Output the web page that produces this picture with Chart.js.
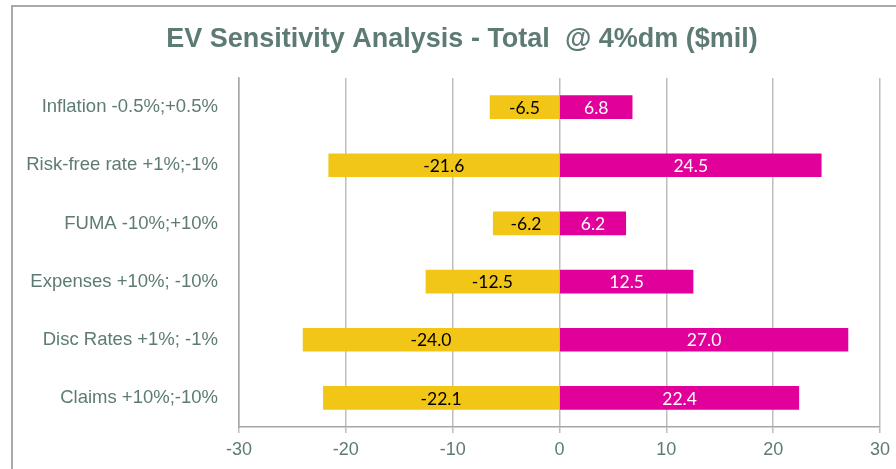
<!DOCTYPE html>
<html>
<head>
<meta charset="utf-8">
<script src="https://cdn.jsdelivr.net/npm/chart.js@4/dist/chart.umd.min.js"></script>
<style>
  html, body { margin: 0; padding: 0; background: #ffffff; overflow: hidden; }
  #wrap { position: relative; width: 896px; height: 469px; }
  #frame { position: absolute; left: 11px; top: 5px; width: 1000px; height: 1000px;
           border-left: 2px solid #a9a9a9; border-top: 2px solid #a9a9a9; box-sizing: border-box; }
  canvas { position: absolute; left: 0; top: 0; }
</style>
</head>
<body>
<div id="wrap">
  <div id="frame"></div>
  <canvas id="chart" width="896" height="469"></canvas>
</div>
<script>
// Sensitivity drivers (top to bottom)
const categories = [
  'Inflation -0.5%;+0.5%',
  'Risk-free rate +1%;-1%',
  'FUMA -10%;+10%',
  'Expenses +10%; -10%',
  'Disc Rates +1%; -1%',
  'Claims +10%;-10%'
];
// EV impact, $mil
const downside = [-6.5, -21.6, -6.2, -12.5, -24.0, -22.1];
const upside   = [6.8, 24.5, 6.2, 12.5, 27.0, 22.4];
const xTicks   = [-30, -20, -10, 0, 10, 20, 30];

const chartTitle = 'EV Sensitivity Analysis - Total  @ 4%dm ($mil)';
const textColor = '#5d7b74';

// Title drawn centred over the plot area
const titlePlugin = {
  id: 'plotTitle',
  afterDraw(chart) {
    const ctx = chart.ctx;
    ctx.save();
    ctx.font = 'bold 27px "Liberation Sans", Arial, sans-serif';
    ctx.fillStyle = textColor;
    ctx.textAlign = 'center';
    ctx.textBaseline = 'alphabetic';
    ctx.fillText(chartTitle, 462, 47);
    ctx.restore();
  }
};

// Value labels centred inside each bar
const barLabelPlugin = {
  id: 'barLabels',
  afterDatasetsDraw(chart) {
    const ctx = chart.ctx;
    ctx.save();
    ctx.font = '17.5px Lato, "Open Sans", sans-serif';
    ctx.textAlign = 'center';
    ctx.textBaseline = 'middle';
    chart.data.datasets.forEach((ds, di) => {
      const meta = chart.getDatasetMeta(di);
      meta.data.forEach((el, i) => {
        const v = ds.data[i];
        const p = el.getProps(['x', 'y', 'base'], true);
        ctx.fillStyle = ds.labelColor;
        ctx.fillText(v.toFixed(1), (p.x + p.base) / 2, p.y + 1);
      });
    });
    ctx.restore();
  }
};

new Chart(document.getElementById('chart'), {
  type: 'bar',
  data: {
    labels: categories,
    datasets: [
      { data: downside, backgroundColor: '#f2c617', labelColor: '#000000',
        barThickness: 23, borderWidth: 0 },
      { data: upside, backgroundColor: '#e1009a', labelColor: '#ffffff',
        barThickness: 23, borderWidth: 0 }
    ]
  },
  options: {
    indexAxis: 'y',
    responsive: false,
    animation: false,
    devicePixelRatio: 1,
    layout: { padding: { top: 78, left: 20, right: 16, bottom: 0 } },
    plugins: {
      legend: { display: false },
      title: { display: false },
      tooltip: { enabled: false }
    },
    scales: {
      x: {
        stacked: true,
        min: -30,
        max: 30,
        afterBuildTicks(scale) { scale.ticks = xTicks.map(v => ({ value: v })); },
        afterFit(scale) { scale.height = 42; },
        grid: { color: '#bdbdbd', lineWidth: 1.5, tickLength: 6, drawTicks: true },
        border: { display: true, color: '#a6a6a6', width: 1.5 },
        ticks: { color: textColor, font: { family: '"Liberation Sans", Arial, sans-serif', size: 18 },
                 padding: 6, maxRotation: 0 }
      },
      y: {
        stacked: true,
        afterFit(scale) { scale.width = 219; },
        grid: { display: false, drawTicks: false },
        border: { display: true, color: '#a6a6a6', width: 1.5 },
        ticks: { color: textColor, font: { family: '"Liberation Sans", Arial, sans-serif', size: 18.5 },
                 padding: 21 }
      }
    }
  },
  plugins: [titlePlugin, barLabelPlugin]
});
</script>
</body>
</html>
